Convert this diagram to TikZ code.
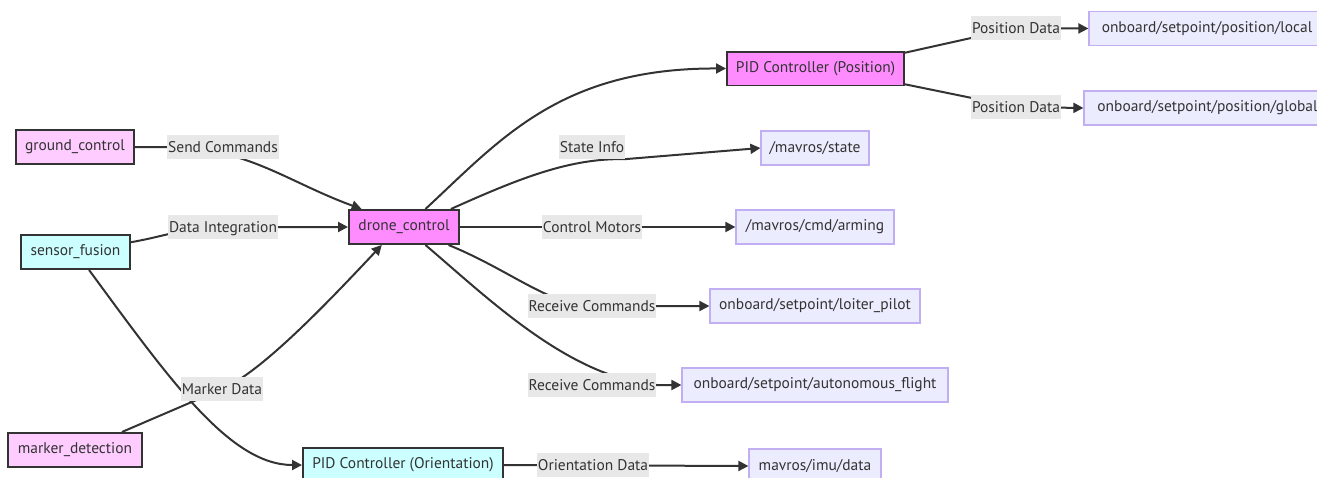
\documentclass[tikz,border=0pt]{standalone}
\usepackage{fontspec}
\setmainfont{PT Sans}
\usepackage{tikz}
\usetikzlibrary{arrows.meta,backgrounds}
\definecolor{ink}{HTML}{333333}
\definecolor{hostpink}{HTML}{FFCCFF}
\definecolor{corepink}{HTML}{FF8CFF}
\definecolor{fusecyan}{HTML}{CCFFFF}
\definecolor{topicfill}{HTML}{ECECFF}
\definecolor{topicline}{HTML}{C2AEF2}
\definecolor{lblgray}{HTML}{E8E8E8}
\tikzset{
    box/.style={draw=ink, line width=0.04cm, minimum height=0.68cm, inner sep=0pt,
        text=ink, font=\fontsize{8.8}{10}\selectfont},
    hostbox/.style={box, fill=hostpink},
    corebox/.style={box, fill=corepink},
    fusebox/.style={box, fill=fusecyan},
    topicbox/.style={box, draw=topicline, line width=0.025cm, fill=topicfill},
    lbl/.style={fill=lblgray, text=ink, inner xsep=0.5pt, inner ysep=1.2pt,
        text height=1.7ex, text depth=0.5ex, font=\fontsize{8.8}{10}\selectfont},
    flow/.style={draw=ink, line width=0.04cm, -{Triangle[length=0.2cm,width=0.2cm]}}
}

\begin{document}
\begin{tikzpicture}[x=0.02cm, y=-0.02cm]
        \useasboundingbox (0,0) rectangle (1317,477);
        % Sources
        \node[hostbox, minimum width=2.36cm] (ground) at (75,147) {ground\_control};
        \node[fusebox, minimum width=2.18cm] (fusion) at (75.5,252) {sensor\_fusion};
        \node[hostbox, minimum width=2.68cm] (marker) at (75,450) {marker\_detection};
        
        % Controllers
        \node[corebox, minimum width=2.2cm] (drone) at (404,227) {drone\_control};
        \node[corebox, minimum width=3.54cm] (pidpos) at (815.5,68.5) {PID Controller (Position)};
        \node[fusebox, minimum width=4cm] (pidori) at (403,465) {PID Controller (Orientation)};
        
        % Topics
        \node[topicbox, minimum width=4.72cm] (local) at (1207,28.5) {onboard/setpoint/position/local};
        \node[topicbox, minimum width=4.94cm] (global) at (1207.5,108) {onboard/setpoint/position/global};
        \node[topicbox, minimum width=2.16cm] (state) at (815,148) {/mavros/state};
        \node[topicbox, minimum width=3.16cm] (arming) at (815,227) {/mavros/cmd/arming};
        \node[topicbox, minimum width=4.2cm] (loiter) at (815,306) {onboard/setpoint/loiter\_pilot};
        \node[topicbox, minimum width=5.32cm] (auto) at (815,385) {onboard/setpoint/autonomous\_flight};
        \node[topicbox, minimum width=2.64cm] (imu) at (815,466) {mavros/imu/data};
        
        % Edge labels
        \node[lbl] (sendlbl) at (223,147) {Send Commands};
        \node[lbl] (datalbl) at (223,227) {Data Integration};
        \node[lbl] (markerlbl) at (222,389) {Marker Data};
        \node[lbl] (statelbl) at (592,147) {State Info};
        \node[lbl] (motorlbl) at (592,227) {Control Motors};
        \node[lbl] (recvlblA) at (592,306) {Receive Commands};
        \node[lbl] (recvlblB) at (592,385) {Receive Commands};
        \node[lbl] (orientlbl) at (593,465) {Orientation Data};
        \node[lbl] (poslblA) at (1016,28) {Position Data};
        \node[lbl] (poslblB) at (1016,107) {Position Data};
        
        \begin{scope}[on background layer]
        % Into drone_control
        \draw[flow] (ground.east) -- (sendlbl.west) to[out=0,in=160] (drone.157.5);
        \draw[flow] (fusion.10) to[out=10,in=180] (datalbl.center) -- (drone.west);
        \draw[flow] (marker.21.6) -- (markerlbl.center) .. controls (262,372) and (330,300) .. (drone.219);
        \draw[flow] (fusion.307) .. controls (170,380) and (230,465) .. (pidori.west);
        
        % Out of drone_control
        \draw[flow] (drone.40) .. controls (500,140) and (560,68) .. (pidpos.west);
        \draw[flow] (drone.21.6) .. controls (520,178) and (570,158) .. (statelbl.south east) -- (state.west);
        \draw[flow] (drone.east) -- (arming.west);
        \draw[flow] (drone.338.4) .. controls (510,270) and (550,306) .. (recvlblA.center) -- (loiter.west);
        \draw[flow] (drone.320) .. controls (490,300) and (570,378) .. (recvlblB.east) -- (auto.west);
        
        % Controller outputs
        \draw[flow] (pidpos.10) -- (poslblA.center) -- (local.west);
        \draw[flow] (pidpos.-10) -- (poslblB.center) -- (global.west);
        \draw[flow] (pidori.east) -- (imu.west);
        \end{scope}
    \end{tikzpicture}
\end{document}
